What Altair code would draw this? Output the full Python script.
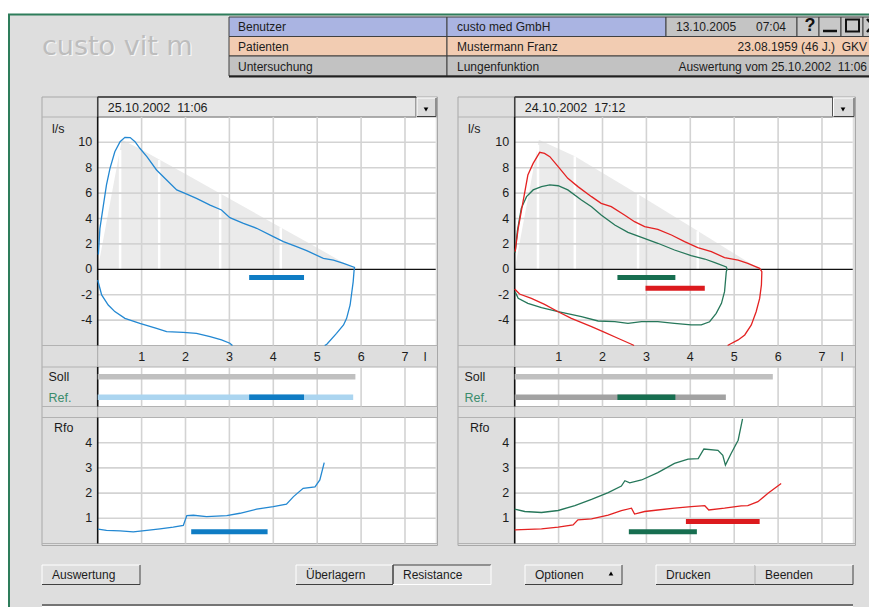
import altair as alt
import pandas as pd

# ---------------- values ----------------
vol_ticks = [1, 2, 3, 4, 5, 6, 7]
vol_labels = ["1", "2", "3", "4", "5", "6", "7"]
flow_grid = [-4, -2, 2, 4, 6, 8, 10]
flow_ticks = [-4, -2, 0, 2, 4, 6, 8, 10]
flow_labels = ["-4", "-2", "0", "2", "4", "6", "8", "10"]
rfo_ticks = [1, 2, 3, 4]
rfo_labels = ["1", "2", "3", "4"]

# left panel (25.10.2002 11:06) - flow/volume loop, two visible pieces
left_a_vol = [0.015, 0.05, 0.13, 0.2, 0.28, 0.39, 0.51, 0.62, 0.74, 0.85, 0.96, 1.12, 1.34, 1.57, 1.8, 1.99,
              2.25, 2.56, 2.82, 3.01, 3.32, 3.62, 4.0, 4.23, 4.53, 4.76, 5.14, 5.37, 5.6, 5.85, 5.84, 5.82,
              5.75, 5.67, 5.6, 5.44, 5.22, 5.17]
left_a_flow = [1.17, 3.2, 5.06, 6.64, 7.95, 9.26, 10.05, 10.39, 10.37, 10.05, 9.53, 8.87, 7.82, 7.03, 6.25, 5.98,
               5.59, 5.06, 4.67, 4.07, 3.62, 3.23, 2.57, 2.18, 1.78, 1.47, 0.86, 0.73, 0.47, 0.15, -0.1, -0.97,
               -2.81, -3.86, -4.38, -5.04, -5.9, -6.0]
left_b_vol = [0.0, 0.09, 0.24, 0.39, 0.62, 0.96, 1.34, 1.57, 1.95, 2.25, 2.56, 2.82, 3.01, 3.07]
left_b_flow = [-0.84, -2.02, -2.81, -3.33, -3.86, -4.25, -4.65, -4.91, -4.96, -5.04, -5.3, -5.56, -5.82, -6.0]
left_pred_vol = [0, 0.55, 0.96, 2.0, 2.8, 4.17, 5.0, 5.86]
left_pred_flow = [0, 10.2, 9.5, 7.5, 5.95, 3.3, 1.7, 0]
left_stripe_vol = [0.51, 1.4, 2.79, 4.17]
left_stripe_top = [9.4, 8.6, 6.0, 3.3]
left_rfo_vol = [0.01, 0.2, 0.51, 0.81, 1.12, 1.42, 1.72, 1.95, 2.03, 2.18, 2.48, 2.94, 3.24, 3.62, 4.0, 4.3,
                4.46, 4.68, 4.95, 5.06, 5.16]
left_rfo_r = [0.57, 0.52, 0.5, 0.46, 0.52, 0.58, 0.65, 0.72, 1.11, 1.12, 1.07, 1.11, 1.2, 1.36, 1.46, 1.56,
              1.86, 2.19, 2.25, 2.52, 3.21]
left_fv_bar = [3.45, 4.7, -0.65]
left_soll = [0, 5.87]
left_ref = [0, 5.82]
left_ref_mark = [3.45, 4.7]
left_rfo_bar = [2.13, 3.87, 0.47]

# right panel (24.10.2002 17:12)
red_a_vol = [0.01, 0.08, 0.19, 0.30, 0.42, 0.57, 0.68, 0.8, 0.99, 1.21, 1.44, 1.75, 1.97, 2.2, 2.5, 2.73, 2.96,
             3.26, 3.57, 3.87, 4.17, 4.48, 4.78, 5.09, 5.31, 5.58, 5.63, 5.62, 5.58, 5.5, 5.39, 5.24, 5.09,
             4.9, 4.85]
red_a_flow = [1.39, 3.23, 5.33, 7.42, 8.34, 9.21, 9.13, 8.87, 8.08, 7.16, 6.51, 5.72, 5.19, 4.93, 4.28, 3.75,
              3.36, 3.15, 2.7, 2.18, 1.7, 1.39, 0.92, 0.73, 0.47, 0.08, -0.18, -1.23, -2.29, -3.34, -4.38,
              -5.17, -5.56, -5.9, -6.0]
red_b_vol = [0.0, 0.11, 0.38, 0.68, 0.99, 1.29, 1.75, 2.05, 2.35, 2.66, 2.72]
red_b_flow = [-1.55, -1.95, -2.29, -2.76, -3.34, -3.86, -4.51, -4.96, -5.43, -5.9, -6.0]
green_vol = [0.01, 0.06, 0.15, 0.27, 0.42, 0.61, 0.8, 0.99, 1.21, 1.52, 1.75, 1.97, 2.28, 2.58, 2.89, 3.26,
             3.64, 4.02, 4.33, 4.56, 4.82, 4.84, 4.82, 4.78, 4.71, 4.59, 4.44, 4.25, 4.02, 3.64, 3.26, 2.89,
             2.58, 2.28, 1.9, 1.52, 0.99, 0.61, 0.3, 0.08, 0.01]
green_flow = [1.3, 3.0, 4.8, 5.72, 6.25, 6.51, 6.64, 6.58, 6.25, 5.46, 4.93, 4.28, 3.49, 2.91, 2.52, 2.05,
              1.52, 1.08, 0.81, 0.52, 0.18, 0.0, -0.18, -1.76, -2.68, -3.47, -4.13, -4.38, -4.38, -4.25,
              -4.12, -4.12, -4.25, -4.12, -4.07, -3.73, -3.34, -3.02, -2.68, -2.29, -1.76]
right_pred_vol = [0, 0.55, 1.37, 2.81, 4.18, 5.58]
right_pred_flow = [0, 10.2, 8.9, 5.9, 3.0, 0]
right_stripe_vol = [0.53, 1.37, 2.81, 4.17]
right_stripe_top = [9.8, 8.9, 5.9, 3.0]
green_rfo_vol = [0.0, 0.23, 0.61, 0.99, 1.37, 1.75, 2.13, 2.43, 2.51, 2.62, 2.89, 3.26, 3.64, 3.95, 4.18,
                 4.31, 4.63, 4.74, 4.8, 4.93, 5.09, 5.19]
green_rfo_r = [1.36, 1.27, 1.23, 1.31, 1.5, 1.75, 2.02, 2.28, 2.49, 2.41, 2.52, 2.81, 3.18, 3.35, 3.37,
               3.75, 3.7, 3.5, 3.11, 3.57, 4.1, 4.95]
red_rfo_vol = [0.0, 0.61, 0.99, 1.33, 1.44, 1.75, 2.13, 2.43, 2.66, 2.73, 2.96, 3.26, 3.64, 4.02, 4.33, 4.42,
               4.78, 5.16, 5.31, 5.54, 5.77, 6.07]
red_rfo_r = [0.54, 0.58, 0.65, 0.74, 0.94, 0.98, 1.13, 1.3, 1.4, 1.17, 1.27, 1.33, 1.4, 1.46, 1.5, 1.33,
             1.4, 1.49, 1.5, 1.66, 1.99, 2.38]
green_fv_bar = [2.34, 3.66, -0.65]
red_fv_bar = [2.98, 4.33, -1.5]
right_soll = [0, 5.88]
right_ref = [0, 4.81]
right_ref_mark = [2.34, 3.66]
red_rfo_bar = [3.9, 5.58, 0.87]
green_rfo_bar = [2.6, 4.15, 0.47]

# ---------------- styles / layout ----------------
OFF = 8.0
def c(v):
    return v - OFF

FONT = "Liberation Sans, Arial, Helvetica, sans-serif"
GRID = "#d3d3d3"
TXT = "#1c1c1c"
BG = "#dedede"
BLUE_LINE = "#2388d2"
BLUE_BAR = "#0f7cc4"
BLUE_LIGHT = "#abd5f0"
RED_LINE = "#e42222"
RED_BAR = "#dc1a1e"
GREEN_LINE = "#26775a"
GREEN_BAR = "#176e50"
PXL = 43.9
Y_FV_TOP, Y_FV_BOT = 116.9, 345.5
Y_AX_BOT = 367.0
Y_SR_BOT = 406.5
Y_R_TOP, Y_R_BOT = 417.5, 543.5


def rects(rows):
    df = pd.DataFrame([dict(x=c(a), y=c(b), x2=c(a2), y2=c(b2), fill=f, stroke=s, sw=w)
                       for a, b, a2, b2, f, s, w in rows])
    return alt.Chart(df).mark_rect().encode(
        x=alt.X('x:Q', scale=None, axis=None), x2='x2:Q',
        y=alt.Y('y:Q', scale=None, axis=None), y2='y2:Q',
        fill=alt.Fill('fill:N', scale=None, legend=None),
        stroke=alt.Stroke('stroke:N', scale=None, legend=None),
        strokeWidth=alt.StrokeWidth('sw:Q', scale=None, legend=None))


def lines(rows):
    df = pd.DataFrame([dict(x=c(a), y=c(b), x2=c(a2), y2=c(b2), col=f, sw=w)
                       for a, b, a2, b2, f, w in rows])
    return alt.Chart(df).mark_rule().encode(
        x=alt.X('x:Q', scale=None, axis=None), x2='x2:Q',
        y=alt.Y('y:Q', scale=None, axis=None), y2='y2:Q',
        color=alt.Color('col:N', scale=None, legend=None),
        strokeWidth=alt.StrokeWidth('sw:Q', scale=None, legend=None))


def texts(rows, align='left', weight='normal', font=FONT, baseline='middle'):
    df = pd.DataFrame([dict(x=c(a), y=c(b), t=t, size=s, col=col) for t, a, b, s, col in rows])
    return alt.Chart(df).mark_text(align=align, baseline=baseline, font=font, fontWeight=weight).encode(
        x=alt.X('x:Q', scale=None, axis=None), y=alt.Y('y:Q', scale=None, axis=None), text='t:N',
        size=alt.Size('size:Q', scale=None, legend=None),
        color=alt.Color('col:N', scale=None, legend=None))


def tri(x, y, shape):
    return alt.Chart(pd.DataFrame({'x': [c(x)], 'y': [c(y)]})).mark_point(
        shape=shape, filled=True, size=22, color='black', opacity=1).encode(
        x=alt.X('x:Q', scale=None, axis=None), y=alt.Y('y:Q', scale=None, axis=None))


def bevel(x0, y0, x1, y1, pressed=False):
    lt, dk = ('#ffffff', '#404040') if not pressed else ('#404040', '#ffffff')
    return [(x0, y0, x1, y0, lt, 1), (x0, y0, x0, y1, lt, 1),
            (x0, y1, x1, y1, dk, 1), (x1, y0, x1, y1, dk, 1)]


GL = dict(L=42, P=97.7, R=437.5, DD=416, date="25.10.2002\u00a0\u00a011:06")
GR = dict(L=458, P=514.7, R=855.5, DD=832.5, date="24.10.2002\u00a0\u00a017:12")

# ---------------- chrome ----------------
box_rows = [(8, 14, 885, 620, BG, 'none', 0)]
# header table
box_rows += [(229, 17, 447, 36.5, '#aab4e2', '#404040', 1), (447, 17, 666, 36.5, '#aab4e2', '#404040', 1),
             (666, 17, 797, 36.5, '#c4c4c4', '#404040', 1),
             (797, 17, 819, 36.5, '#c8c8c8', '#404040', 1), (819, 17, 841, 36.5, '#c8c8c8', '#404040', 1),
             (841, 17, 863, 36.5, '#c8c8c8', '#404040', 1), (863, 17, 885, 36.5, '#c8c8c8', '#404040', 1),
             (229, 36.5, 447, 56, '#f2ccb2', '#404040', 1), (447, 36.5, 885, 56, '#f2ccb2', '#404040', 1),
             (229, 56, 447, 76, '#c2c2c2', '#404040', 1), (447, 56, 885, 76, '#c2c2c2', '#404040', 1),
             (846, 19.5, 859, 31.5, 'none', '#111111', 2)]
line_rows = [(8, 14.5, 885, 14.5, '#2e7d5b', 2), (9, 14, 9, 620, '#2e7d5b', 2),
             (229, 76.5, 885, 76.5, '#202020', 2), (823, 31, 837, 31, '#111111', 2.5),
             (867, 19, 879, 32, '#111111', 2.5), (879, 19, 867, 32, '#111111', 2.5)]

for g in (GL, GR):
    L, P, R, DD = g['L'], g['P'], g['R'], g['DD']
    PR = P + 7.7 * PXL
    box_rows += [(L, 97, R, 545.5, BG, '#a8a8a8', 1),
                 (P, Y_FV_TOP, PR, Y_FV_BOT, 'white', 'none', 0),
                 (P, Y_AX_BOT, PR, Y_SR_BOT, 'white', 'none', 0),
                 (P, Y_R_TOP, PR, Y_R_BOT, 'white', 'none', 0),
                 (P, 97, DD, 117, '#e6e6e6', '#555555', 1),
                 (DD + 1, 98, R - 1.5, 116, '#dcdcdc', 'none', 0)]
    for yy in (117, Y_FV_BOT, Y_AX_BOT, Y_SR_BOT, Y_R_TOP, Y_R_BOT):
        line_rows.append((L, yy, R, yy, '#b2b2b2', 1))
    line_rows += [(P, Y_FV_BOT, P, Y_AX_BOT, '#a8a8a8', 1), (P, Y_SR_BOT, P, Y_R_TOP, '#a8a8a8', 1),
                  (P, 97, DD, 97, '#404040', 1.5), (P, 97, P, 117, '#404040', 1.5)]
    line_rows += bevel(DD + 1, 98, R - 1.5, 116.5)

buttons = [("Auswertung", 42, 140, False), ("Überlagern", 296, 393, False), ("Resistance", 393, 491, True),
           ("Optionen", 525, 622, False), ("Drucken", 656, 755, False), ("Beenden", 755, 853, False)]
for name, x0, x1, pr in buttons:
    box_rows.append((x0, 565, x1, 584.5, '#e2e2e2' if pr else BG, 'none', 0))
    line_rows += bevel(x0, 565, x1, 584.5, pr)
line_rows += [(42, 605, 853, 605, '#505050', 1.5), (42, 606.5, 853, 606.5, '#ffffff', 1)]

layers = [rects(box_rows), lines(line_rows)]


# ---------------- panels ----------------
def panel(g, d):
    P = g['P']
    PR = P + 7.7 * PXL
    xs = alt.Scale(domain=[0, 7.7], range=[c(P), c(PR)], nice=False, zero=False)
    fy = alt.Scale(domain=[-6, 12], range=[c(Y_FV_BOT), c(Y_FV_TOP)], nice=False, zero=False)
    ry = alt.Scale(domain=[0, 5], range=[c(Y_R_BOT), c(Y_R_TOP)], nice=False, zero=False)
    EX = lambda f: alt.X(f, type='quantitative', scale=xs, axis=None)
    EFY = lambda f: alt.Y(f, type='quantitative', scale=fy, axis=None)
    ERY = lambda f: alt.Y(f, type='quantitative', scale=ry, axis=None)
    out = []
    # predicted area + separating stripes
    pdf = pd.DataFrame({'vol': d['pred'][0], 'flow': d['pred'][1]})
    pdf['base'] = 0
    out.append(alt.Chart(pdf).mark_area(color='#ebebeb', opacity=1).encode(x=EX('vol'), y=EFY('flow'), y2='base:Q'))
    sdf = pd.DataFrame({'vol': d['stripes'][0], 'top': d['stripes'][1]})
    sdf['base'] = 0
    out.append(alt.Chart(sdf).mark_rule(color='white', strokeWidth=2.5).encode(x=EX('vol'), y=EFY('top'), y2='base:Q'))
    # grids
    vdf = pd.DataFrame({'v': vol_ticks})
    for top, bot in ((Y_FV_TOP, Y_FV_BOT), (Y_AX_BOT, Y_SR_BOT), (Y_R_TOP, Y_R_BOT)):
        out.append(alt.Chart(vdf).mark_rule(color=GRID, strokeWidth=1.6).encode(
            x=EX('v'), y=alt.value(c(top)), y2=alt.value(c(bot))))
    out.append(alt.Chart(pd.DataFrame({'f': flow_grid})).mark_rule(color=GRID, strokeWidth=1.6).encode(
        y=EFY('f'), x=alt.value(c(P)), x2=alt.value(c(PR))))
    out.append(alt.Chart(pd.DataFrame({'f': rfo_ticks})).mark_rule(color=GRID, strokeWidth=1.6).encode(
        y=ERY('f'), x=alt.value(c(P)), x2=alt.value(c(PR))))
    # zero line and volume axis line
    out.append(alt.Chart(pd.DataFrame({'f': [0]})).mark_rule(color='#111111', strokeWidth=1.2).encode(
        y=EFY('f'), x=alt.value(c(P)), x2=alt.value(c(PR))))
    for top, bot in ((Y_FV_TOP, Y_FV_BOT), (Y_AX_BOT, Y_SR_BOT), (Y_R_TOP, Y_R_BOT)):
        out.append(alt.Chart(pd.DataFrame({'v': [0]})).mark_rule(color='#111111', strokeWidth=1.6).encode(
            x=EX('v'), y=alt.value(c(top)), y2=alt.value(c(bot))))
    # flow-volume curves
    for vv, ff, col in d['curves']:
        cdf = pd.DataFrame({'vol': vv, 'flow': ff, 'i': list(range(len(vv)))})
        out.append(alt.Chart(cdf).mark_line(color=col, strokeWidth=1.3).encode(
            x=EX('vol'), y=EFY('flow'), order=alt.Order('i:Q')))
    # resistance curves
    for vv, rr, col in d['rfo']:
        cdf = pd.DataFrame({'vol': vv, 'r': rr, 'i': list(range(len(vv)))})
        out.append(alt.Chart(cdf).mark_line(color=col, strokeWidth=1.3).encode(
            x=EX('vol'), y=ERY('r'), order=alt.Order('i:Q')))
    # bars in the plots
    for b, col in d['fv_bars']:
        bdf = pd.DataFrame({'a': [b[0]], 'b': [b[1]], 'y': [b[2]]})
        out.append(alt.Chart(bdf).mark_rule(color=col, strokeWidth=5).encode(x=EX('a'), x2='b:Q', y=EFY('y')))
    for b, col in d['rfo_bars']:
        bdf = pd.DataFrame({'a': [b[0]], 'b': [b[1]], 'y': [b[2]]})
        out.append(alt.Chart(bdf).mark_rule(color=col, strokeWidth=5).encode(x=EX('a'), x2='b:Q', y=ERY('y')))
    # Soll / Ref rows
    for b, col, yy in d['sr_bars']:
        bdf = pd.DataFrame({'a': [b[0]], 'b': [b[1]]})
        out.append(alt.Chart(bdf).mark_rule(color=col, strokeWidth=5.5).encode(
            x=EX('a'), x2='b:Q', y=alt.value(c(yy))))
    # tick labels
    out.append(alt.Chart(pd.DataFrame({'v': flow_ticks, 't': flow_labels})).mark_text(
        align='right', baseline='middle', font=FONT, fontSize=12.5, color=TXT).encode(
        y=EFY('v'), x=alt.value(c(P - 5.5)), text='t:N'))
    out.append(alt.Chart(pd.DataFrame({'v': rfo_ticks, 't': rfo_labels})).mark_text(
        align='right', baseline='middle', font=FONT, fontSize=12.5, color=TXT).encode(
        y=ERY('v'), x=alt.value(c(P - 5.5)), text='t:N'))
    out.append(alt.Chart(pd.DataFrame({'v': vol_ticks + [7.46], 't': vol_labels + ["l"]})).mark_text(
        align='center', baseline='middle', font=FONT, fontSize=12.5, color=TXT).encode(
        x=EX('v'), y=alt.value(c(356.5)), text='t:N'))
    return out


dL = dict(
    pred=(left_pred_vol, left_pred_flow), stripes=(left_stripe_vol, left_stripe_top),
    curves=[(left_a_vol, left_a_flow, BLUE_LINE), (left_b_vol, left_b_flow, BLUE_LINE)],
    rfo=[(left_rfo_vol, left_rfo_r, BLUE_LINE)],
    fv_bars=[(left_fv_bar, BLUE_BAR)], rfo_bars=[(left_rfo_bar, BLUE_BAR)],
    sr_bars=[(left_soll, '#c0c0c0', 376.7), (left_ref, BLUE_LIGHT, 397.2), (left_ref_mark, BLUE_BAR, 397.2)])
dR = dict(
    pred=(right_pred_vol, right_pred_flow), stripes=(right_stripe_vol, right_stripe_top),
    curves=[(green_vol, green_flow, GREEN_LINE), (red_a_vol, red_a_flow, RED_LINE), (red_b_vol, red_b_flow, RED_LINE)],
    rfo=[(green_rfo_vol, green_rfo_r, GREEN_LINE), (red_rfo_vol, red_rfo_r, RED_LINE)],
    fv_bars=[(green_fv_bar, GREEN_BAR), (red_fv_bar, RED_BAR)],
    rfo_bars=[(red_rfo_bar, RED_BAR), (green_rfo_bar, GREEN_BAR)],
    sr_bars=[(right_soll, '#c0c0c0', 376.7), (right_ref, '#a2a2a2', 397.2), (right_ref_mark, GREEN_BAR, 397.2)])

layers += panel(GL, dL)
layers += panel(GR, dR)

# ---------------- texts ----------------
left_txt = [("Benutzer", 238, 26.5, 12, TXT), ("custo med GmbH", 457, 26.5, 12, TXT),
            ("13.10.2005", 676, 26.5, 12, TXT),
            ("Patienten", 238, 46.5, 12, TXT), ("Mustermann Franz", 457, 46.5, 12, TXT),
            ("Untersuchung", 238, 66.5, 12, TXT), ("Lungenfunktion", 457, 66.5, 12, TXT)]
for g in (GL, GR):
    L = g['L']
    left_txt += [(g['date'], g['P'] + 10, 107.5, 12.5, TXT), ("l/s", L + 10, 128.5, 12.5, TXT),
                 ("Soll", L + 6.5, 377, 12.5, TXT), ("Ref.", L + 6.5, 397.5, 12.5, '#3a8c6c'),
                 ("Rfo", L + 12, 427.5, 12.5, TXT)]
for name, x0, x1, pr in buttons:
    left_txt.append((name, x0 + 10, 575, 12, TXT))
right_txt = [("07:04", 786, 26.5, 12, TXT), ("23.08.1959 (46 J.)\u00a0\u00a0GKV", 867, 46.5, 12, TXT),
             ("Auswertung vom 25.10.2002\u00a0\u00a011:06", 867, 66.5, 12, TXT)]

layers.append(texts([("custo vit m", 43.2, 56.2, 27, '#f6f6f6')], baseline='alphabetic', font='DejaVu Sans'))
layers.append(texts([("custo vit m", 42, 55, 27, '#bdbdbd')], baseline='alphabetic', font='DejaVu Sans'))
layers.append(texts(left_txt))
layers.append(texts(right_txt, align='right'))
layers.append(texts([("?", 810, 25.5, 18, '#111111')], align='center', weight='bold'))
layers.append(tri(426, 109.5, 'triangle-down'))
layers.append(tri(GR['DD'] + 10.5, 109.5, 'triangle-down'))
layers.append(tri(611, 573.5, 'triangle-up'))

chart = alt.layer(*layers).resolve_scale(x='independent', y='independent').properties(
    width=861, height=599, padding=0, background='white',
    autosize=alt.AutoSizeParams(type='none')).configure_view(strokeWidth=0)

chart.save("out.html", embed_options={"renderer": "svg", "actions": False})
